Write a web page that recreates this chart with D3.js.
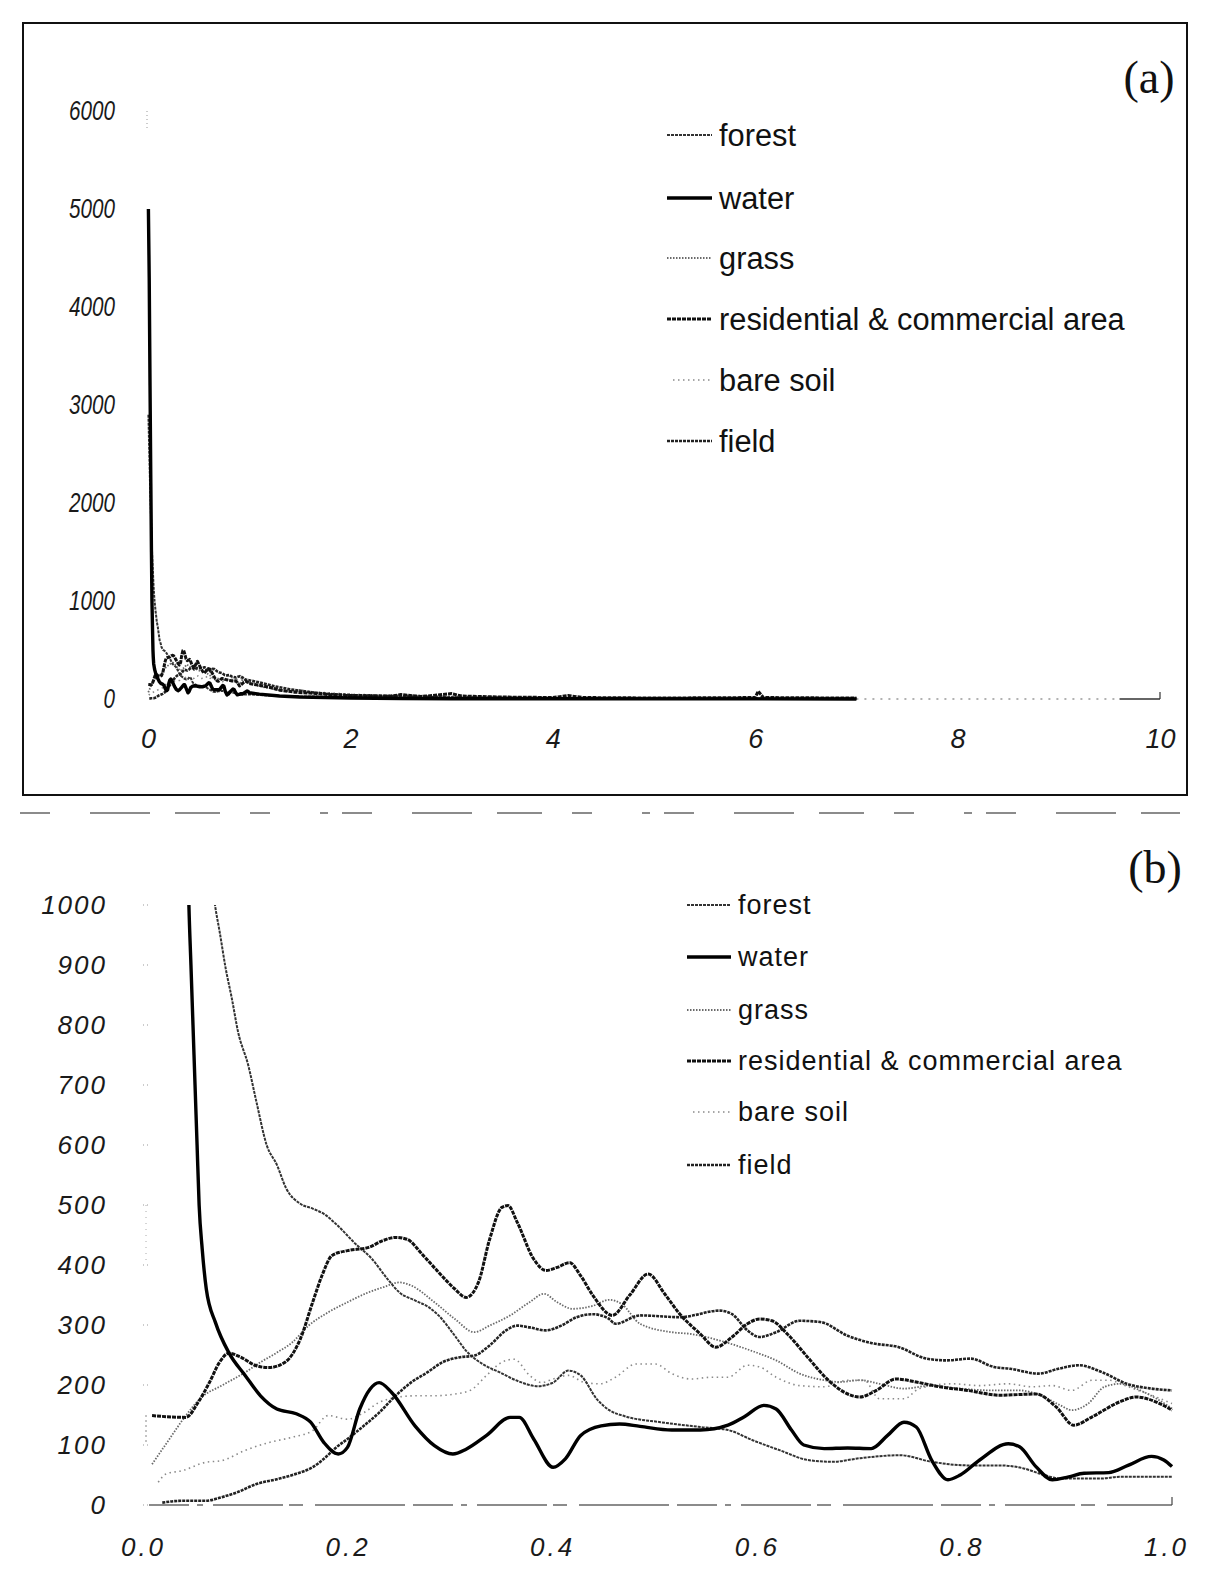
<!DOCTYPE html>
<html>
<head>
<meta charset="utf-8">
<script src="https://cdn.jsdelivr.net/npm/d3@7"></script>
<style>
  body { margin: 0; background: #fff; }
  svg { display: block; }
  .axis .tick text { font-family: "Liberation Sans Narrow", "Liberation Sans", Arial, sans-serif; font-style: italic; fill: #1a1a1a; }
  .legend text { font-family: "Liberation Sans", Arial, sans-serif; fill: #111; }
  .panel-label { font-family: "Liberation Serif", "Times New Roman", serif; fill: #111; }
</style>
</head>
<body>
<svg id="chart" width="1227" height="1589"></svg>
<script>
var seriesNames = ['forest', 'water', 'grass', 'residential & commercial area', 'bare soil', 'field'];

// values for x <= 1 (head points above 1000 only show in panel a)
var forestPts = [[0.004,2900],[0.02,2200],[0.04,1500],[0.055,1150],[0.0645,1000],[0.069,956],[0.075,894],[0.081,844],[0.087,789],[0.097,733],[0.105,672],[0.115,600],[0.125,567],[0.134,528],[0.148,502],[0.16,494],[0.172,484],[0.183,468],[0.202,435],[0.218,410],[0.233,377],[0.245,354],[0.26,341],[0.274,329],[0.283,316],[0.299,282],[0.31,257],[0.326,235],[0.343,221],[0.36,207],[0.38,198],[0.395,204],[0.41,224],[0.422,216],[0.438,176],[0.45,158],[0.465,148],[0.5,138],[0.539,130],[0.566,125],[0.59,108],[0.617,91],[0.644,75],[0.668,72],[0.695,78],[0.734,83],[0.765,72],[0.801,66],[0.832,66],[0.855,61],[0.875,50],[0.891,44],[0.93,44],[0.949,47],[1.0,47]];
var waterPts = [[0.004,5000],[0.012,4300],[0.02,3200],[0.028,2200],[0.034,1500],[0.039,1000],[0.041,900],[0.043,800],[0.045,700],[0.047,600],[0.049,500],[0.052,427],[0.056,360],[0.065,304],[0.078,254],[0.094,216],[0.109,182],[0.125,160],[0.144,152],[0.158,138],[0.171,104],[0.185,85],[0.194,96],[0.206,160],[0.216,193],[0.225,204],[0.237,188],[0.26,132],[0.279,99],[0.297,85],[0.31,93],[0.33,116],[0.353,146],[0.362,146],[0.376,110],[0.395,63],[0.407,77],[0.422,116],[0.442,132],[0.46,135],[0.48,131],[0.511,125],[0.539,125],[0.566,133],[0.582,147],[0.601,166],[0.613,160],[0.628,125],[0.64,100],[0.66,94],[0.683,95],[0.706,94],[0.722,116],[0.738,138],[0.75,130],[0.765,75],[0.781,42],[0.793,50],[0.812,75],[0.84,102],[0.851,97],[0.867,64],[0.883,42],[0.899,47],[0.914,53],[0.938,54],[0.957,66],[0.98,81],[0.992,75],[1.0,64]];
var grassPts = [[0.003,68],[0.02,110],[0.036,149],[0.051,179],[0.071,199],[0.094,221],[0.109,238],[0.125,254],[0.14,271],[0.156,299],[0.175,321],[0.194,338],[0.214,354],[0.229,363],[0.245,371],[0.256,366],[0.279,338],[0.299,310],[0.318,288],[0.333,299],[0.353,316],[0.372,338],[0.386,352],[0.399,338],[0.414,327],[0.434,332],[0.45,342],[0.462,335],[0.48,302],[0.511,288],[0.53,285],[0.558,274],[0.589,257],[0.613,241],[0.636,219],[0.66,208],[0.675,205],[0.695,208],[0.714,202],[0.738,194],[0.765,199],[0.793,194],[0.824,191],[0.851,191],[0.871,183],[0.891,166],[0.902,158],[0.918,169],[0.934,197],[0.949,202],[0.969,191],[0.988,174],[1.0,161]];
var residentialPts = [[0.003,149],[0.036,146],[0.048,171],[0.059,204],[0.069,238],[0.078,253],[0.09,246],[0.105,232],[0.117,229],[0.133,238],[0.148,277],[0.16,338],[0.169,382],[0.179,416],[0.194,424],[0.214,429],[0.229,441],[0.241,446],[0.252,443],[0.268,416],[0.283,388],[0.299,360],[0.31,346],[0.322,371],[0.333,443],[0.345,496],[0.351,499],[0.36,471],[0.376,410],[0.388,391],[0.399,396],[0.411,404],[0.422,382],[0.434,349],[0.453,316],[0.47,350],[0.488,385],[0.504,352],[0.519,318],[0.539,285],[0.554,263],[0.57,280],[0.585,302],[0.597,310],[0.609,307],[0.624,285],[0.644,246],[0.664,208],[0.683,185],[0.695,180],[0.711,191],[0.73,210],[0.75,205],[0.773,197],[0.8,191],[0.832,183],[0.867,185],[0.887,163],[0.904,133],[0.922,147],[0.949,172],[0.965,180],[0.988,169],[1.0,158]];
var bareSoilPts = [[0.009,38],[0.017,52],[0.032,57],[0.055,71],[0.071,74],[0.094,91],[0.117,104],[0.14,113],[0.16,124],[0.175,149],[0.194,143],[0.21,154],[0.225,171],[0.241,179],[0.26,182],[0.279,182],[0.299,185],[0.314,191],[0.33,216],[0.345,238],[0.357,243],[0.372,216],[0.384,204],[0.395,210],[0.41,216],[0.426,204],[0.441,202],[0.456,213],[0.476,235],[0.495,235],[0.511,219],[0.53,210],[0.55,213],[0.566,213],[0.585,233],[0.597,230],[0.613,213],[0.636,199],[0.66,197],[0.683,208],[0.699,208],[0.714,177],[0.738,177],[0.753,194],[0.785,202],[0.812,199],[0.84,202],[0.863,197],[0.883,199],[0.902,191],[0.922,208],[0.938,208],[0.957,197],[0.98,183],[1.0,169]];
var fieldPts = [[0.013,4],[0.032,7],[0.055,7],[0.071,13],[0.086,21],[0.105,35],[0.125,43],[0.144,52],[0.16,63],[0.171,77],[0.183,96],[0.194,110],[0.21,132],[0.225,154],[0.241,182],[0.256,204],[0.272,221],[0.287,238],[0.303,246],[0.318,249],[0.333,266],[0.349,291],[0.36,299],[0.372,296],[0.388,291],[0.403,299],[0.418,313],[0.434,318],[0.449,311],[0.456,302],[0.48,316],[0.519,313],[0.558,324],[0.57,318],[0.585,291],[0.597,280],[0.613,288],[0.636,307],[0.656,305],[0.683,282],[0.706,270],[0.733,263],[0.76,244],[0.78,241],[0.803,244],[0.826,230],[0.842,227],[0.869,219],[0.889,227],[0.909,233],[0.932,221],[0.956,202],[0.98,194],[1.0,191]];

// tails beyond x = 1, only visible in panel a
var forestTail = [[1.1,40],[1.3,30],[1.6,25],[2,20],[2.5,15],[3,12],[4,8],[5,5],[6,4],[7,3]];
var waterTail = [[1.1,50],[1.3,30],[1.5,20],[2,10],[2.5,5],[3,3],[4,2],[5,1],[6,1],[7,0]];
var grassTail = [[1.1,130],[1.2,110],[1.35,80],[1.5,90],[1.7,60],[2,40],[2.3,30],[2.5,40],[3,25],[3.5,18],[4,12],[4.5,8],[5,6],[6,4],[7,2]];
var residentialTail = [[1.1,140],[1.2,120],[1.3,90],[1.45,70],[1.6,60],[1.8,45],[2,35],[2.4,30],[2.5,45],[2.7,25],[3,55],[3.1,30],[3.5,20],[4,15],[4.15,35],[4.3,15],[5,10],[5.5,12],[6,15],[6.03,80],[6.08,15],[6.5,12],[7,10]];
var bareSoilTail = [[1.1,150],[1.3,100],[1.5,80],[2,50],[2.5,30],[3,20],[4,10],[5,5],[6,3],[7,2]];
var fieldTail = [[1.1,170],[1.25,130],[1.4,100],[1.6,70],[1.8,50],[2,40],[2.5,25],[3,15],[4,8],[5,5],[6,3],[7,2]];

var yTicksA = [0, 1000, 2000, 3000, 4000, 5000, 6000];
var xTicksA = [0, 2, 4, 6, 8, 10];
var yTicksB = [0, 100, 200, 300, 400, 500, 600, 700, 800, 900, 1000];
var xTicksB = [0, 0.2, 0.4, 0.6, 0.8, 1.0];

// line looks of the scanned print
var styles = [
  { stroke: '#333', width: 2.0, dash: '3,1' },   // forest
  { stroke: '#000', width: 3.4, dash: null },    // water
  { stroke: '#6a6a6a', width: 1.8, dash: '1.5,1.5' }, // grass
  { stroke: '#111', width: 3.0, dash: '4,1' },   // residential
  { stroke: '#8a8a8a', width: 1.6, dash: '1.5,3.5' }, // bare soil
  { stroke: '#222', width: 2.6, dash: '3,1' }    // field
];
var drawOrder = [4, 2, 0, 5, 3, 1];

var detail = [forestPts, waterPts, grassPts, residentialPts, bareSoilPts, fieldPts];
var tails = [forestTail, waterTail, grassTail, residentialTail, bareSoilTail, fieldTail];

var svg = d3.select('#chart');

var xA = d3.scaleLinear().domain([0, 10]).range([148, 1160]);
var yA = d3.scaleLinear().domain([0, 6000]).range([699, 111]);
var xB = d3.scaleLinear().domain([0, 1]).range([149, 1172]);
var yB = d3.scaleLinear().domain([0, 1000]).range([1505, 905]);

function styleLine(sel, st) {
  sel.attr('fill', 'none')
    .attr('stroke', st.stroke)
    .attr('stroke-width', st.width)
    .attr('stroke-dasharray', st.dash)
    .attr('stroke-linejoin', 'round');
}

// ---------- panel (a) ----------
svg.append('rect').attr('x', 23).attr('y', 23).attr('width', 1164).attr('height', 772)
  .attr('fill', 'none').attr('stroke', '#111').attr('stroke-width', 2);
// broken line under the frame (scan)
svg.append('line').attr('x1', 20).attr('x2', 1180).attr('y1', 813).attr('y2', 813)
  .attr('stroke', '#666').attr('stroke-width', 1.3).attr('stroke-dasharray', '30,40,60,25,45,30,20,50,8,14');

svg.append('text').attr('class', 'panel-label').attr('x', 1149).attr('y', 77).attr('dy', '0.35em')
  .attr('text-anchor', 'middle').attr('font-size', 46).text('(a)');

// faint baseline to the end of the axis
svg.append('line').attr('x1', xA(7)).attr('x2', xA(9.6)).attr('y1', yA(0)).attr('y2', yA(0))
  .attr('stroke', '#666').attr('stroke-width', 1.2).attr('stroke-dasharray', '2,6');
svg.append('line').attr('x1', xA(9.6)).attr('x2', xA(10)).attr('y1', yA(0)).attr('y2', yA(0))
  .attr('stroke', '#333').attr('stroke-width', 1.4);
svg.append('line').attr('x1', xA(10)).attr('x2', xA(10)).attr('y1', yA(0)).attr('y2', yA(0) - 7)
  .attr('stroke', '#333').attr('stroke-width', 1.2);
svg.append('line').attr('x1', 147).attr('x2', 147).attr('y1', yA(6000)).attr('y2', yA(5800))
  .attr('stroke', '#999').attr('stroke-width', 1).attr('stroke-dasharray', '1,3');

var lineA = d3.line().x(function (d) { return xA(d[0]); }).y(function (d) { return yA(d[1]); });
drawOrder.forEach(function (i) {
  svg.append('path').datum(detail[i].concat(tails[i])).attr('d', lineA).call(styleLine, styles[i]);
});

var axA_y = svg.append('g').attr('class', 'axis').attr('transform', 'translate(148,0)')
  .call(d3.axisLeft(yA).tickValues(yTicksA).tickSize(0).tickPadding(33).tickFormat(d3.format('d')));
axA_y.attr('font-size', 27).select('.domain').remove();
// the printed numbers are narrow
axA_y.selectAll('text')
  .attr('textLength', function (d) { return String(d).length * 11.5; })
  .attr('lengthAdjust', 'spacingAndGlyphs');

var axA_x = svg.append('g').attr('class', 'axis').attr('transform', 'translate(0,699)')
  .call(d3.axisBottom(xA).tickValues(xTicksA).tickSize(0).tickPadding(30).tickFormat(d3.format('d')));
axA_x.attr('font-size', 27).select('.domain').remove();

function legend(x0, x1, tx, rows, fs, spacing) {
  var g = svg.append('g').attr('class', 'legend');
  seriesNames.forEach(function (name, i) {
    var lx0 = i === 4 ? x0 + 6 : x0;
    g.append('line').attr('x1', lx0).attr('x2', x1).attr('y1', rows[i]).attr('y2', rows[i])
      .call(styleLine, styles[i]);
    g.append('text').attr('x', tx).attr('y', rows[i]).attr('dy', '0.35em')
      .attr('font-size', fs).attr('letter-spacing', spacing).text(name);
  });
}
legend(667, 712, 719, [135, 198, 258, 319, 380, 441], 30.8, 0);

// ---------- panel (b) ----------
svg.append('text').attr('class', 'panel-label').attr('x', 1155).attr('y', 867).attr('dy', '0.35em')
  .attr('text-anchor', 'middle').attr('font-size', 46).text('(b)');

svg.append('defs').append('clipPath').attr('id', 'clipB')
  .append('rect').attr('x', 130).attr('y', yB(1000)).attr('width', 1060).attr('height', yB(0) - yB(1000) + 10);

svg.append('line').attr('x1', xB(0)).attr('x2', xB(1)).attr('y1', yB(0)).attr('y2', yB(0))
  .attr('stroke', '#666').attr('stroke-width', 1.3).attr('stroke-dasharray', '40,8,6,10,70,6,14,12,90,8');
svg.append('line').attr('x1', xB(1)).attr('x2', xB(1)).attr('y1', yB(0)).attr('y2', yB(0) - 8)
  .attr('stroke', '#444').attr('stroke-width', 1.2);
svg.append('g').selectAll('line').data(yTicksB).join('line')
  .attr('x1', 143).attr('x2', 151).attr('y1', function (d) { return yB(d); }).attr('y2', function (d) { return yB(d); })
  .attr('stroke', '#999').attr('stroke-width', 1).attr('stroke-dasharray', '1,3');
svg.append('line').attr('x1', 146).attr('x2', 146).attr('y1', yB(500)).attr('y2', yB(400))
  .attr('stroke', '#aaa').attr('stroke-width', 1).attr('stroke-dasharray', '1,5');
svg.append('line').attr('x1', 146).attr('x2', 146).attr('y1', yB(150)).attr('y2', yB(100))
  .attr('stroke', '#888').attr('stroke-width', 1).attr('stroke-dasharray', '2,3');

var lineB = d3.line().curve(d3.curveMonotoneX)
  .x(function (d) { return xB(d[0]); }).y(function (d) { return yB(d[1]); });
var plotB = svg.append('g').attr('clip-path', 'url(#clipB)');
drawOrder.forEach(function (i) {
  plotB.append('path').datum(detail[i]).attr('d', lineB).call(styleLine, styles[i]);
});

var axB_y = svg.append('g').attr('class', 'axis').attr('transform', 'translate(149,0)')
  .call(d3.axisLeft(yB).tickValues(yTicksB).tickSize(0).tickPadding(42).tickFormat(d3.format('d')));
axB_y.attr('font-size', 26).select('.domain').remove();
axB_y.selectAll('text').attr('letter-spacing', 2);

var axB_x = svg.append('g').attr('class', 'axis').attr('transform', 'translate(0,1505)')
  .call(d3.axisBottom(xB).tickValues(xTicksB).tickSize(0).tickPadding(33).tickFormat(d3.format('.1f')));
axB_x.attr('font-size', 26).select('.domain').remove();
axB_x.selectAll('text').attr('letter-spacing', 3).attr('dx', -6);

legend(687, 731, 738, [905, 957, 1010, 1061, 1112, 1165], 27, 1);
</script>
</body>
</html>
